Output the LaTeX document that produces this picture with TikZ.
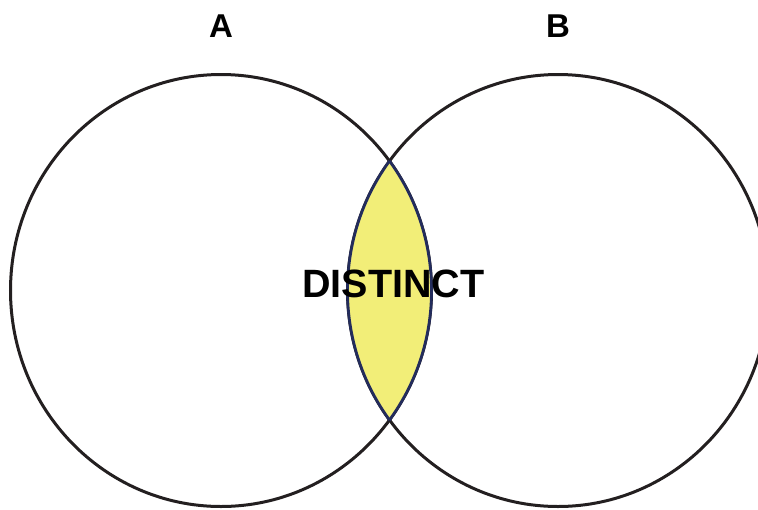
\documentclass[tikz,border=0pt]{standalone}
\usepackage{fontspec}
\setmainfont{Liberation Sans}
\usepackage{xcolor}
\definecolor{lensfill}{HTML}{F2EE78}
\definecolor{navy}{HTML}{232C5C}
\definecolor{ink}{HTML}{231F20}

\begin{document}
\begin{tikzpicture}[
  x=1pt,y=-1pt,
  setline/.style={draw=ink,line width=3pt},
  lensline/.style={draw=navy,line width=2.8pt},
  setlabel/.style={font=\fontsize{33}{38}\selectfont\bfseries,inner sep=0pt}
]
\useasboundingbox (0,0) rectangle (758,509);
\clip (0,0) rectangle (758,509);
% the two sets
\path[setline] (221,290.5) ellipse [x radius=210.5,y radius=216];
\path[setline] (558,290.5) ellipse [x radius=210.5,y radius=216];
% overlap
\begin{scope}
  \clip (221,290.5) ellipse [x radius=210.5,y radius=216];
  \fill[lensfill] (558,290.5) ellipse [x radius=210.5,y radius=216];
  \path[lensline] (558,290.5) ellipse [x radius=210.5,y radius=216];
\end{scope}
\begin{scope}
  \clip (558,290.5) ellipse [x radius=210.5,y radius=216];
  \path[lensline] (221,290.5) ellipse [x radius=210.5,y radius=216];
\end{scope}
\node[setlabel] (lblA) at (221,26.5) {A};
\node[setlabel] (lblB) at (558,26.5) {B};
\node[setlabel,font=\fontsize{39.5}{44}\selectfont\bfseries] (distinct) at (393.5,284) {DISTINCT};
\end{tikzpicture}
\end{document}
